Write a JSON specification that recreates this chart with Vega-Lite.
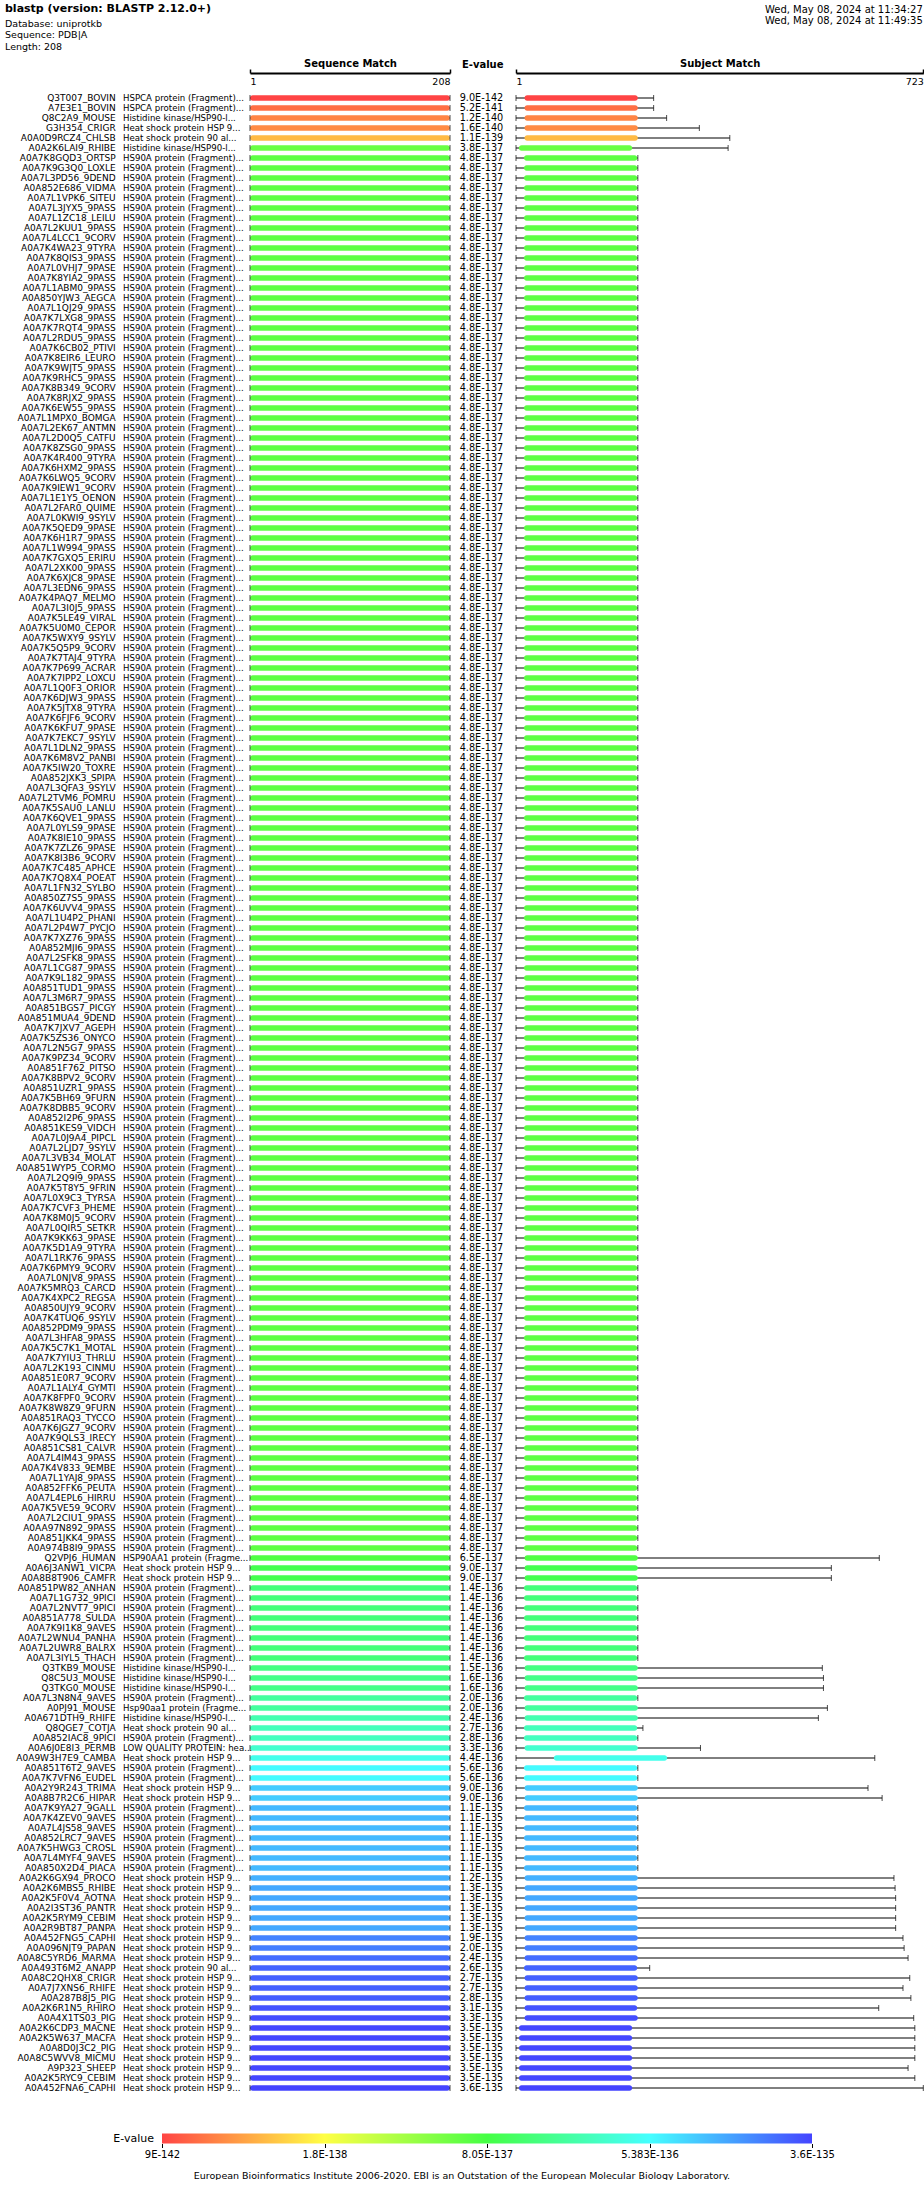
{
"$schema": "https://vega.github.io/schema/vega-lite/v6.json",
"padding": {"left": 0, "top": 2, "right": 0, "bottom": 0},
"background": "white",
"config": {"font": "DejaVu Sans", "view": {"stroke": null}, "text": {"color": "#000"}},
"title": {"text": "European Bioinformatics Institute 2006-2020. EBI is an Outstation of the European Molecular Biology Laboratory.", "orient": "bottom", "anchor": "middle", "fontSize": 9.5, "fontWeight": "normal", "color": "#000", "offset": 11, "baseline": "top"},
"datasets": {"hits": [
{"i":"Q3T007_BOVIN","d":"HSPCA protein (Fragment)...","e":"9.0E-142","v":9.0e-142,"qs":1,"qe":208,"ls":1,"s":16,"t":217,"l":245},
{"i":"A7E3E1_BOVIN","d":"HSPCA protein (Fragment)...","e":"5.2E-141","v":5.2e-141,"qs":1,"qe":208,"ls":1,"s":16,"t":217,"l":245},
{"i":"Q8C2A9_MOUSE","d":"Histidine kinase/HSP90-l...","e":"1.2E-140","v":1.2e-140,"qs":1,"qe":208,"ls":1,"s":16,"t":217,"l":268},
{"i":"G3H354_CRIGR","d":"Heat shock protein HSP 9...","e":"1.6E-140","v":1.6e-140,"qs":1,"qe":208,"ls":1,"s":16,"t":217,"l":326},
{"i":"A0A0D9RCZ4_CHLSB","d":"Heat shock protein 90 al...","e":"1.1E-139","v":1.1e-139,"qs":1,"qe":208,"ls":1,"s":16,"t":217,"l":380},
{"i":"A0A2K6LAI9_RHIBE","d":"Histidine kinase/HSP90-l...","e":"3.8E-137","v":3.8e-137,"qs":1,"qe":208,"ls":1,"s":6,"t":207,"l":377},
{"i":"A0A7K8GQD3_ORTSP","d":"HS90A protein (Fragment)...","e":"4.8E-137","v":4.8e-137,"qs":1,"qe":208,"ls":1,"s":15,"t":216,"l":217},
{"i":"A0A7K9G3Q0_LOXLE","d":"HS90A protein (Fragment)...","e":"4.8E-137","v":4.8e-137,"qs":1,"qe":208,"ls":1,"s":15,"t":216,"l":217},
{"i":"A0A7L3PD56_9DEND","d":"HS90A protein (Fragment)...","e":"4.8E-137","v":4.8e-137,"qs":1,"qe":208,"ls":1,"s":15,"t":216,"l":217},
{"i":"A0A852E686_VIDMA","d":"HS90A protein (Fragment)...","e":"4.8E-137","v":4.8e-137,"qs":1,"qe":208,"ls":1,"s":15,"t":216,"l":217},
{"i":"A0A7L1VPK6_SITEU","d":"HS90A protein (Fragment)...","e":"4.8E-137","v":4.8e-137,"qs":1,"qe":208,"ls":1,"s":15,"t":216,"l":217},
{"i":"A0A7L3JYX5_9PASS","d":"HS90A protein (Fragment)...","e":"4.8E-137","v":4.8e-137,"qs":1,"qe":208,"ls":1,"s":15,"t":216,"l":217},
{"i":"A0A7L1ZC18_LEILU","d":"HS90A protein (Fragment)...","e":"4.8E-137","v":4.8e-137,"qs":1,"qe":208,"ls":1,"s":15,"t":216,"l":217},
{"i":"A0A7L2KUU1_9PASS","d":"HS90A protein (Fragment)...","e":"4.8E-137","v":4.8e-137,"qs":1,"qe":208,"ls":1,"s":15,"t":216,"l":217},
{"i":"A0A7L4LCC1_9CORV","d":"HS90A protein (Fragment)...","e":"4.8E-137","v":4.8e-137,"qs":1,"qe":208,"ls":1,"s":15,"t":216,"l":217},
{"i":"A0A7K4WA23_9TYRA","d":"HS90A protein (Fragment)...","e":"4.8E-137","v":4.8e-137,"qs":1,"qe":208,"ls":1,"s":15,"t":216,"l":217},
{"i":"A0A7K8QIS3_9PASS","d":"HS90A protein (Fragment)...","e":"4.8E-137","v":4.8e-137,"qs":1,"qe":208,"ls":1,"s":15,"t":216,"l":217},
{"i":"A0A7L0VHJ7_9PASE","d":"HS90A protein (Fragment)...","e":"4.8E-137","v":4.8e-137,"qs":1,"qe":208,"ls":1,"s":15,"t":216,"l":217},
{"i":"A0A7K8YIA2_9PASS","d":"HS90A protein (Fragment)...","e":"4.8E-137","v":4.8e-137,"qs":1,"qe":208,"ls":1,"s":15,"t":216,"l":217},
{"i":"A0A7L1ABM0_9PASS","d":"HS90A protein (Fragment)...","e":"4.8E-137","v":4.8e-137,"qs":1,"qe":208,"ls":1,"s":15,"t":216,"l":217},
{"i":"A0A850YJW3_AEGCA","d":"HS90A protein (Fragment)...","e":"4.8E-137","v":4.8e-137,"qs":1,"qe":208,"ls":1,"s":15,"t":216,"l":217},
{"i":"A0A7L1QJ29_9PASS","d":"HS90A protein (Fragment)...","e":"4.8E-137","v":4.8e-137,"qs":1,"qe":208,"ls":1,"s":15,"t":216,"l":217},
{"i":"A0A7K7LXG8_9PASS","d":"HS90A protein (Fragment)...","e":"4.8E-137","v":4.8e-137,"qs":1,"qe":208,"ls":1,"s":15,"t":216,"l":217},
{"i":"A0A7K7RQT4_9PASS","d":"HS90A protein (Fragment)...","e":"4.8E-137","v":4.8e-137,"qs":1,"qe":208,"ls":1,"s":15,"t":216,"l":217},
{"i":"A0A7L2RDU5_9PASS","d":"HS90A protein (Fragment)...","e":"4.8E-137","v":4.8e-137,"qs":1,"qe":208,"ls":1,"s":15,"t":216,"l":217},
{"i":"A0A7K6CB02_PTIVI","d":"HS90A protein (Fragment)...","e":"4.8E-137","v":4.8e-137,"qs":1,"qe":208,"ls":1,"s":15,"t":216,"l":217},
{"i":"A0A7K8EIR6_LEURO","d":"HS90A protein (Fragment)...","e":"4.8E-137","v":4.8e-137,"qs":1,"qe":208,"ls":1,"s":15,"t":216,"l":217},
{"i":"A0A7K9WJT5_9PASS","d":"HS90A protein (Fragment)...","e":"4.8E-137","v":4.8e-137,"qs":1,"qe":208,"ls":1,"s":15,"t":216,"l":217},
{"i":"A0A7K9RHC5_9PASS","d":"HS90A protein (Fragment)...","e":"4.8E-137","v":4.8e-137,"qs":1,"qe":208,"ls":1,"s":15,"t":216,"l":217},
{"i":"A0A7K8B349_9CORV","d":"HS90A protein (Fragment)...","e":"4.8E-137","v":4.8e-137,"qs":1,"qe":208,"ls":1,"s":15,"t":216,"l":217},
{"i":"A0A7K8RJX2_9PASS","d":"HS90A protein (Fragment)...","e":"4.8E-137","v":4.8e-137,"qs":1,"qe":208,"ls":1,"s":15,"t":216,"l":217},
{"i":"A0A7K6EW55_9PASS","d":"HS90A protein (Fragment)...","e":"4.8E-137","v":4.8e-137,"qs":1,"qe":208,"ls":1,"s":15,"t":216,"l":217},
{"i":"A0A7L1MPX0_BOMGA","d":"HS90A protein (Fragment)...","e":"4.8E-137","v":4.8e-137,"qs":1,"qe":208,"ls":1,"s":15,"t":216,"l":217},
{"i":"A0A7L2EK67_ANTMN","d":"HS90A protein (Fragment)...","e":"4.8E-137","v":4.8e-137,"qs":1,"qe":208,"ls":1,"s":15,"t":216,"l":217},
{"i":"A0A7L2D0Q5_CATFU","d":"HS90A protein (Fragment)...","e":"4.8E-137","v":4.8e-137,"qs":1,"qe":208,"ls":1,"s":15,"t":216,"l":217},
{"i":"A0A7K8ZSG0_9PASS","d":"HS90A protein (Fragment)...","e":"4.8E-137","v":4.8e-137,"qs":1,"qe":208,"ls":1,"s":15,"t":216,"l":217},
{"i":"A0A7K4R400_9TYRA","d":"HS90A protein (Fragment)...","e":"4.8E-137","v":4.8e-137,"qs":1,"qe":208,"ls":1,"s":15,"t":216,"l":217},
{"i":"A0A7K6HXM2_9PASS","d":"HS90A protein (Fragment)...","e":"4.8E-137","v":4.8e-137,"qs":1,"qe":208,"ls":1,"s":15,"t":216,"l":217},
{"i":"A0A7K6LWQ5_9CORV","d":"HS90A protein (Fragment)...","e":"4.8E-137","v":4.8e-137,"qs":1,"qe":208,"ls":1,"s":15,"t":216,"l":217},
{"i":"A0A7K9IEW1_9CORV","d":"HS90A protein (Fragment)...","e":"4.8E-137","v":4.8e-137,"qs":1,"qe":208,"ls":1,"s":15,"t":216,"l":217},
{"i":"A0A7L1E1Y5_OENON","d":"HS90A protein (Fragment)...","e":"4.8E-137","v":4.8e-137,"qs":1,"qe":208,"ls":1,"s":15,"t":216,"l":217},
{"i":"A0A7L2FAR0_QUIME","d":"HS90A protein (Fragment)...","e":"4.8E-137","v":4.8e-137,"qs":1,"qe":208,"ls":1,"s":15,"t":216,"l":217},
{"i":"A0A7L0KWI9_9SYLV","d":"HS90A protein (Fragment)...","e":"4.8E-137","v":4.8e-137,"qs":1,"qe":208,"ls":1,"s":15,"t":216,"l":217},
{"i":"A0A7K5QED9_9PASE","d":"HS90A protein (Fragment)...","e":"4.8E-137","v":4.8e-137,"qs":1,"qe":208,"ls":1,"s":15,"t":216,"l":217},
{"i":"A0A7K6H1R7_9PASS","d":"HS90A protein (Fragment)...","e":"4.8E-137","v":4.8e-137,"qs":1,"qe":208,"ls":1,"s":15,"t":216,"l":217},
{"i":"A0A7L1W994_9PASS","d":"HS90A protein (Fragment)...","e":"4.8E-137","v":4.8e-137,"qs":1,"qe":208,"ls":1,"s":15,"t":216,"l":217},
{"i":"A0A7K7GXQ5_ERIRU","d":"HS90A protein (Fragment)...","e":"4.8E-137","v":4.8e-137,"qs":1,"qe":208,"ls":1,"s":15,"t":216,"l":217},
{"i":"A0A7L2XK00_9PASS","d":"HS90A protein (Fragment)...","e":"4.8E-137","v":4.8e-137,"qs":1,"qe":208,"ls":1,"s":15,"t":216,"l":217},
{"i":"A0A7K6XJC8_9PASE","d":"HS90A protein (Fragment)...","e":"4.8E-137","v":4.8e-137,"qs":1,"qe":208,"ls":1,"s":15,"t":216,"l":217},
{"i":"A0A7L3EDN6_9PASS","d":"HS90A protein (Fragment)...","e":"4.8E-137","v":4.8e-137,"qs":1,"qe":208,"ls":1,"s":15,"t":216,"l":217},
{"i":"A0A7K4PAQ7_MELMO","d":"HS90A protein (Fragment)...","e":"4.8E-137","v":4.8e-137,"qs":1,"qe":208,"ls":1,"s":15,"t":216,"l":217},
{"i":"A0A7L3I0J5_9PASS","d":"HS90A protein (Fragment)...","e":"4.8E-137","v":4.8e-137,"qs":1,"qe":208,"ls":1,"s":15,"t":216,"l":217},
{"i":"A0A7K5LE49_VIRAL","d":"HS90A protein (Fragment)...","e":"4.8E-137","v":4.8e-137,"qs":1,"qe":208,"ls":1,"s":15,"t":216,"l":217},
{"i":"A0A7K5U0M0_CEPOR","d":"HS90A protein (Fragment)...","e":"4.8E-137","v":4.8e-137,"qs":1,"qe":208,"ls":1,"s":15,"t":216,"l":217},
{"i":"A0A7K5WXY9_9SYLV","d":"HS90A protein (Fragment)...","e":"4.8E-137","v":4.8e-137,"qs":1,"qe":208,"ls":1,"s":15,"t":216,"l":217},
{"i":"A0A7K5Q5P9_9CORV","d":"HS90A protein (Fragment)...","e":"4.8E-137","v":4.8e-137,"qs":1,"qe":208,"ls":1,"s":15,"t":216,"l":217},
{"i":"A0A7K7TAJ4_9TYRA","d":"HS90A protein (Fragment)...","e":"4.8E-137","v":4.8e-137,"qs":1,"qe":208,"ls":1,"s":15,"t":216,"l":217},
{"i":"A0A7K7P699_ACRAR","d":"HS90A protein (Fragment)...","e":"4.8E-137","v":4.8e-137,"qs":1,"qe":208,"ls":1,"s":15,"t":216,"l":217},
{"i":"A0A7K7IPP2_LOXCU","d":"HS90A protein (Fragment)...","e":"4.8E-137","v":4.8e-137,"qs":1,"qe":208,"ls":1,"s":15,"t":216,"l":217},
{"i":"A0A7L1Q0F3_ORIOR","d":"HS90A protein (Fragment)...","e":"4.8E-137","v":4.8e-137,"qs":1,"qe":208,"ls":1,"s":15,"t":216,"l":217},
{"i":"A0A7K6DJW3_9PASS","d":"HS90A protein (Fragment)...","e":"4.8E-137","v":4.8e-137,"qs":1,"qe":208,"ls":1,"s":15,"t":216,"l":217},
{"i":"A0A7K5JTX8_9TYRA","d":"HS90A protein (Fragment)...","e":"4.8E-137","v":4.8e-137,"qs":1,"qe":208,"ls":1,"s":15,"t":216,"l":217},
{"i":"A0A7K6FJF6_9CORV","d":"HS90A protein (Fragment)...","e":"4.8E-137","v":4.8e-137,"qs":1,"qe":208,"ls":1,"s":15,"t":216,"l":217},
{"i":"A0A7K6KFU7_9PASE","d":"HS90A protein (Fragment)...","e":"4.8E-137","v":4.8e-137,"qs":1,"qe":208,"ls":1,"s":15,"t":216,"l":217},
{"i":"A0A7K7EKC7_9SYLV","d":"HS90A protein (Fragment)...","e":"4.8E-137","v":4.8e-137,"qs":1,"qe":208,"ls":1,"s":15,"t":216,"l":217},
{"i":"A0A7L1DLN2_9PASS","d":"HS90A protein (Fragment)...","e":"4.8E-137","v":4.8e-137,"qs":1,"qe":208,"ls":1,"s":15,"t":216,"l":217},
{"i":"A0A7K6M8V2_PANBI","d":"HS90A protein (Fragment)...","e":"4.8E-137","v":4.8e-137,"qs":1,"qe":208,"ls":1,"s":15,"t":216,"l":217},
{"i":"A0A7K5IW20_TOXRE","d":"HS90A protein (Fragment)...","e":"4.8E-137","v":4.8e-137,"qs":1,"qe":208,"ls":1,"s":15,"t":216,"l":217},
{"i":"A0A852JXK3_SPIPA","d":"HS90A protein (Fragment)...","e":"4.8E-137","v":4.8e-137,"qs":1,"qe":208,"ls":1,"s":15,"t":216,"l":217},
{"i":"A0A7L3QFA3_9SYLV","d":"HS90A protein (Fragment)...","e":"4.8E-137","v":4.8e-137,"qs":1,"qe":208,"ls":1,"s":15,"t":216,"l":217},
{"i":"A0A7L2TVM6_POMRU","d":"HS90A protein (Fragment)...","e":"4.8E-137","v":4.8e-137,"qs":1,"qe":208,"ls":1,"s":15,"t":216,"l":217},
{"i":"A0A7K5SAU0_LANLU","d":"HS90A protein (Fragment)...","e":"4.8E-137","v":4.8e-137,"qs":1,"qe":208,"ls":1,"s":15,"t":216,"l":217},
{"i":"A0A7K6QVE1_9PASS","d":"HS90A protein (Fragment)...","e":"4.8E-137","v":4.8e-137,"qs":1,"qe":208,"ls":1,"s":15,"t":216,"l":217},
{"i":"A0A7L0YLS9_9PASE","d":"HS90A protein (Fragment)...","e":"4.8E-137","v":4.8e-137,"qs":1,"qe":208,"ls":1,"s":15,"t":216,"l":217},
{"i":"A0A7K8IE10_9PASS","d":"HS90A protein (Fragment)...","e":"4.8E-137","v":4.8e-137,"qs":1,"qe":208,"ls":1,"s":15,"t":216,"l":217},
{"i":"A0A7K7ZLZ6_9PASE","d":"HS90A protein (Fragment)...","e":"4.8E-137","v":4.8e-137,"qs":1,"qe":208,"ls":1,"s":15,"t":216,"l":217},
{"i":"A0A7K8I3B6_9CORV","d":"HS90A protein (Fragment)...","e":"4.8E-137","v":4.8e-137,"qs":1,"qe":208,"ls":1,"s":15,"t":216,"l":217},
{"i":"A0A7K7C485_APHCE","d":"HS90A protein (Fragment)...","e":"4.8E-137","v":4.8e-137,"qs":1,"qe":208,"ls":1,"s":15,"t":216,"l":217},
{"i":"A0A7K7Q8X4_POEAT","d":"HS90A protein (Fragment)...","e":"4.8E-137","v":4.8e-137,"qs":1,"qe":208,"ls":1,"s":15,"t":216,"l":217},
{"i":"A0A7L1FN32_SYLBO","d":"HS90A protein (Fragment)...","e":"4.8E-137","v":4.8e-137,"qs":1,"qe":208,"ls":1,"s":15,"t":216,"l":217},
{"i":"A0A850Z7S5_9PASS","d":"HS90A protein (Fragment)...","e":"4.8E-137","v":4.8e-137,"qs":1,"qe":208,"ls":1,"s":15,"t":216,"l":217},
{"i":"A0A7K6UVV4_9PASS","d":"HS90A protein (Fragment)...","e":"4.8E-137","v":4.8e-137,"qs":1,"qe":208,"ls":1,"s":15,"t":216,"l":217},
{"i":"A0A7L1U4P2_PHANI","d":"HS90A protein (Fragment)...","e":"4.8E-137","v":4.8e-137,"qs":1,"qe":208,"ls":1,"s":15,"t":216,"l":217},
{"i":"A0A7L2P4W7_PYCJO","d":"HS90A protein (Fragment)...","e":"4.8E-137","v":4.8e-137,"qs":1,"qe":208,"ls":1,"s":15,"t":216,"l":217},
{"i":"A0A7K7XZ76_9PASS","d":"HS90A protein (Fragment)...","e":"4.8E-137","v":4.8e-137,"qs":1,"qe":208,"ls":1,"s":15,"t":216,"l":217},
{"i":"A0A852MJI6_9PASS","d":"HS90A protein (Fragment)...","e":"4.8E-137","v":4.8e-137,"qs":1,"qe":208,"ls":1,"s":15,"t":216,"l":217},
{"i":"A0A7L2SFK8_9PASS","d":"HS90A protein (Fragment)...","e":"4.8E-137","v":4.8e-137,"qs":1,"qe":208,"ls":1,"s":15,"t":216,"l":217},
{"i":"A0A7L1CG87_9PASS","d":"HS90A protein (Fragment)...","e":"4.8E-137","v":4.8e-137,"qs":1,"qe":208,"ls":1,"s":15,"t":216,"l":217},
{"i":"A0A7K9L182_9PASS","d":"HS90A protein (Fragment)...","e":"4.8E-137","v":4.8e-137,"qs":1,"qe":208,"ls":1,"s":15,"t":216,"l":217},
{"i":"A0A851TUD1_9PASS","d":"HS90A protein (Fragment)...","e":"4.8E-137","v":4.8e-137,"qs":1,"qe":208,"ls":1,"s":15,"t":216,"l":217},
{"i":"A0A7L3M6R7_9PASS","d":"HS90A protein (Fragment)...","e":"4.8E-137","v":4.8e-137,"qs":1,"qe":208,"ls":1,"s":15,"t":216,"l":217},
{"i":"A0A851BGS7_PICGY","d":"HS90A protein (Fragment)...","e":"4.8E-137","v":4.8e-137,"qs":1,"qe":208,"ls":1,"s":15,"t":216,"l":217},
{"i":"A0A851MUA4_9DEND","d":"HS90A protein (Fragment)...","e":"4.8E-137","v":4.8e-137,"qs":1,"qe":208,"ls":1,"s":15,"t":216,"l":217},
{"i":"A0A7K7JXV7_AGEPH","d":"HS90A protein (Fragment)...","e":"4.8E-137","v":4.8e-137,"qs":1,"qe":208,"ls":1,"s":15,"t":216,"l":217},
{"i":"A0A7K5ZS36_ONYCO","d":"HS90A protein (Fragment)...","e":"4.8E-137","v":4.8e-137,"qs":1,"qe":208,"ls":1,"s":15,"t":216,"l":217},
{"i":"A0A7L2N5G7_9PASS","d":"HS90A protein (Fragment)...","e":"4.8E-137","v":4.8e-137,"qs":1,"qe":208,"ls":1,"s":15,"t":216,"l":217},
{"i":"A0A7K9PZ34_9CORV","d":"HS90A protein (Fragment)...","e":"4.8E-137","v":4.8e-137,"qs":1,"qe":208,"ls":1,"s":15,"t":216,"l":217},
{"i":"A0A851F762_PITSO","d":"HS90A protein (Fragment)...","e":"4.8E-137","v":4.8e-137,"qs":1,"qe":208,"ls":1,"s":15,"t":216,"l":217},
{"i":"A0A7K8BPV2_9CORV","d":"HS90A protein (Fragment)...","e":"4.8E-137","v":4.8e-137,"qs":1,"qe":208,"ls":1,"s":15,"t":216,"l":217},
{"i":"A0A851UZR1_9PASS","d":"HS90A protein (Fragment)...","e":"4.8E-137","v":4.8e-137,"qs":1,"qe":208,"ls":1,"s":15,"t":216,"l":217},
{"i":"A0A7K5BH69_9FURN","d":"HS90A protein (Fragment)...","e":"4.8E-137","v":4.8e-137,"qs":1,"qe":208,"ls":1,"s":15,"t":216,"l":217},
{"i":"A0A7K8DBB5_9CORV","d":"HS90A protein (Fragment)...","e":"4.8E-137","v":4.8e-137,"qs":1,"qe":208,"ls":1,"s":15,"t":216,"l":217},
{"i":"A0A852I2P6_9PASS","d":"HS90A protein (Fragment)...","e":"4.8E-137","v":4.8e-137,"qs":1,"qe":208,"ls":1,"s":15,"t":216,"l":217},
{"i":"A0A851KES9_VIDCH","d":"HS90A protein (Fragment)...","e":"4.8E-137","v":4.8e-137,"qs":1,"qe":208,"ls":1,"s":15,"t":216,"l":217},
{"i":"A0A7L0J9A4_PIPCL","d":"HS90A protein (Fragment)...","e":"4.8E-137","v":4.8e-137,"qs":1,"qe":208,"ls":1,"s":15,"t":216,"l":217},
{"i":"A0A7L2LJD7_9SYLV","d":"HS90A protein (Fragment)...","e":"4.8E-137","v":4.8e-137,"qs":1,"qe":208,"ls":1,"s":15,"t":216,"l":217},
{"i":"A0A7L3VB34_MOLAT","d":"HS90A protein (Fragment)...","e":"4.8E-137","v":4.8e-137,"qs":1,"qe":208,"ls":1,"s":15,"t":216,"l":217},
{"i":"A0A851WYP5_CORMO","d":"HS90A protein (Fragment)...","e":"4.8E-137","v":4.8e-137,"qs":1,"qe":208,"ls":1,"s":15,"t":216,"l":217},
{"i":"A0A7L2Q9I9_9PASS","d":"HS90A protein (Fragment)...","e":"4.8E-137","v":4.8e-137,"qs":1,"qe":208,"ls":1,"s":15,"t":216,"l":217},
{"i":"A0A7K5T8Y5_9FRIN","d":"HS90A protein (Fragment)...","e":"4.8E-137","v":4.8e-137,"qs":1,"qe":208,"ls":1,"s":15,"t":216,"l":217},
{"i":"A0A7L0X9C3_TYRSA","d":"HS90A protein (Fragment)...","e":"4.8E-137","v":4.8e-137,"qs":1,"qe":208,"ls":1,"s":15,"t":216,"l":217},
{"i":"A0A7K7CVF3_PHEME","d":"HS90A protein (Fragment)...","e":"4.8E-137","v":4.8e-137,"qs":1,"qe":208,"ls":1,"s":15,"t":216,"l":217},
{"i":"A0A7K8M0J5_9CORV","d":"HS90A protein (Fragment)...","e":"4.8E-137","v":4.8e-137,"qs":1,"qe":208,"ls":1,"s":15,"t":216,"l":217},
{"i":"A0A7L0QIR5_SETKR","d":"HS90A protein (Fragment)...","e":"4.8E-137","v":4.8e-137,"qs":1,"qe":208,"ls":1,"s":15,"t":216,"l":217},
{"i":"A0A7K9KK63_9PASE","d":"HS90A protein (Fragment)...","e":"4.8E-137","v":4.8e-137,"qs":1,"qe":208,"ls":1,"s":15,"t":216,"l":217},
{"i":"A0A7K5D1A9_9TYRA","d":"HS90A protein (Fragment)...","e":"4.8E-137","v":4.8e-137,"qs":1,"qe":208,"ls":1,"s":15,"t":216,"l":217},
{"i":"A0A7L1RK76_9PASS","d":"HS90A protein (Fragment)...","e":"4.8E-137","v":4.8e-137,"qs":1,"qe":208,"ls":1,"s":15,"t":216,"l":217},
{"i":"A0A7K6PMY9_9CORV","d":"HS90A protein (Fragment)...","e":"4.8E-137","v":4.8e-137,"qs":1,"qe":208,"ls":1,"s":15,"t":216,"l":217},
{"i":"A0A7L0NJV8_9PASS","d":"HS90A protein (Fragment)...","e":"4.8E-137","v":4.8e-137,"qs":1,"qe":208,"ls":1,"s":15,"t":216,"l":217},
{"i":"A0A7K5MRQ3_CARCD","d":"HS90A protein (Fragment)...","e":"4.8E-137","v":4.8e-137,"qs":1,"qe":208,"ls":1,"s":15,"t":216,"l":217},
{"i":"A0A7K4XPC2_REGSA","d":"HS90A protein (Fragment)...","e":"4.8E-137","v":4.8e-137,"qs":1,"qe":208,"ls":1,"s":15,"t":216,"l":217},
{"i":"A0A850UJY9_9CORV","d":"HS90A protein (Fragment)...","e":"4.8E-137","v":4.8e-137,"qs":1,"qe":208,"ls":1,"s":15,"t":216,"l":217},
{"i":"A0A7K4TUQ6_9SYLV","d":"HS90A protein (Fragment)...","e":"4.8E-137","v":4.8e-137,"qs":1,"qe":208,"ls":1,"s":15,"t":216,"l":217},
{"i":"A0A852PDM9_9PASS","d":"HS90A protein (Fragment)...","e":"4.8E-137","v":4.8e-137,"qs":1,"qe":208,"ls":1,"s":15,"t":216,"l":217},
{"i":"A0A7L3HFA8_9PASS","d":"HS90A protein (Fragment)...","e":"4.8E-137","v":4.8e-137,"qs":1,"qe":208,"ls":1,"s":15,"t":216,"l":217},
{"i":"A0A7K5C7K1_MOTAL","d":"HS90A protein (Fragment)...","e":"4.8E-137","v":4.8e-137,"qs":1,"qe":208,"ls":1,"s":15,"t":216,"l":217},
{"i":"A0A7K7YIU3_THRLU","d":"HS90A protein (Fragment)...","e":"4.8E-137","v":4.8e-137,"qs":1,"qe":208,"ls":1,"s":15,"t":216,"l":217},
{"i":"A0A7L2K193_CINMU","d":"HS90A protein (Fragment)...","e":"4.8E-137","v":4.8e-137,"qs":1,"qe":208,"ls":1,"s":15,"t":216,"l":217},
{"i":"A0A851E0R7_9CORV","d":"HS90A protein (Fragment)...","e":"4.8E-137","v":4.8e-137,"qs":1,"qe":208,"ls":1,"s":15,"t":216,"l":217},
{"i":"A0A7L1ALY4_GYMTI","d":"HS90A protein (Fragment)...","e":"4.8E-137","v":4.8e-137,"qs":1,"qe":208,"ls":1,"s":15,"t":216,"l":217},
{"i":"A0A7K8FPF0_9CORV","d":"HS90A protein (Fragment)...","e":"4.8E-137","v":4.8e-137,"qs":1,"qe":208,"ls":1,"s":15,"t":216,"l":217},
{"i":"A0A7K8W8Z9_9FURN","d":"HS90A protein (Fragment)...","e":"4.8E-137","v":4.8e-137,"qs":1,"qe":208,"ls":1,"s":15,"t":216,"l":217},
{"i":"A0A851RAQ3_TYCCO","d":"HS90A protein (Fragment)...","e":"4.8E-137","v":4.8e-137,"qs":1,"qe":208,"ls":1,"s":15,"t":216,"l":217},
{"i":"A0A7K6JGZ7_9CORV","d":"HS90A protein (Fragment)...","e":"4.8E-137","v":4.8e-137,"qs":1,"qe":208,"ls":1,"s":15,"t":216,"l":217},
{"i":"A0A7K9QLS3_IRECY","d":"HS90A protein (Fragment)...","e":"4.8E-137","v":4.8e-137,"qs":1,"qe":208,"ls":1,"s":15,"t":216,"l":217},
{"i":"A0A851CS81_CALVR","d":"HS90A protein (Fragment)...","e":"4.8E-137","v":4.8e-137,"qs":1,"qe":208,"ls":1,"s":15,"t":216,"l":217},
{"i":"A0A7L4IM43_9PASS","d":"HS90A protein (Fragment)...","e":"4.8E-137","v":4.8e-137,"qs":1,"qe":208,"ls":1,"s":15,"t":216,"l":217},
{"i":"A0A7K4V833_9EMBE","d":"HS90A protein (Fragment)...","e":"4.8E-137","v":4.8e-137,"qs":1,"qe":208,"ls":1,"s":15,"t":216,"l":217},
{"i":"A0A7L1YAJ8_9PASS","d":"HS90A protein (Fragment)...","e":"4.8E-137","v":4.8e-137,"qs":1,"qe":208,"ls":1,"s":15,"t":216,"l":217},
{"i":"A0A852FFK6_PEUTA","d":"HS90A protein (Fragment)...","e":"4.8E-137","v":4.8e-137,"qs":1,"qe":208,"ls":1,"s":15,"t":216,"l":217},
{"i":"A0A7L4EPL6_HIRRU","d":"HS90A protein (Fragment)...","e":"4.8E-137","v":4.8e-137,"qs":1,"qe":208,"ls":1,"s":15,"t":216,"l":217},
{"i":"A0A7K5VE59_9CORV","d":"HS90A protein (Fragment)...","e":"4.8E-137","v":4.8e-137,"qs":1,"qe":208,"ls":1,"s":15,"t":216,"l":217},
{"i":"A0A7L2CIU1_9PASS","d":"HS90A protein (Fragment)...","e":"4.8E-137","v":4.8e-137,"qs":1,"qe":208,"ls":1,"s":15,"t":216,"l":217},
{"i":"A0AA97N892_9PASS","d":"HS90A protein (Fragment)...","e":"4.8E-137","v":4.8e-137,"qs":1,"qe":208,"ls":1,"s":15,"t":216,"l":217},
{"i":"A0A851JKK4_9PASS","d":"HS90A protein (Fragment)...","e":"4.8E-137","v":4.8e-137,"qs":1,"qe":208,"ls":1,"s":15,"t":216,"l":217},
{"i":"A0A974B8I9_9PASS","d":"HS90A protein (Fragment)...","e":"4.8E-137","v":4.8e-137,"qs":1,"qe":208,"ls":1,"s":15,"t":216,"l":217},
{"i":"Q2VPJ6_HUMAN","d":"HSP90AA1 protein (Fragme...","e":"6.5E-137","v":6.5e-137,"qs":1,"qe":208,"ls":1,"s":16,"t":217,"l":645},
{"i":"A0A6J3ANW1_VICPA","d":"Heat shock protein HSP 9...","e":"9.0E-137","v":9.0e-137,"qs":1,"qe":208,"ls":1,"s":16,"t":217,"l":560},
{"i":"A0A8B8T906_CAMFR","d":"Heat shock protein HSP 9...","e":"9.0E-137","v":9.0e-137,"qs":1,"qe":208,"ls":1,"s":16,"t":217,"l":560},
{"i":"A0A851PW82_ANHAN","d":"HS90A protein (Fragment)...","e":"1.4E-136","v":1.4e-136,"qs":1,"qe":208,"ls":1,"s":15,"t":216,"l":217},
{"i":"A0A7L1G732_9PICI","d":"HS90A protein (Fragment)...","e":"1.4E-136","v":1.4e-136,"qs":1,"qe":208,"ls":1,"s":15,"t":216,"l":217},
{"i":"A0A7L2NVT7_9PICI","d":"HS90A protein (Fragment)...","e":"1.4E-136","v":1.4e-136,"qs":1,"qe":208,"ls":1,"s":15,"t":216,"l":217},
{"i":"A0A851A778_SULDA","d":"HS90A protein (Fragment)...","e":"1.4E-136","v":1.4e-136,"qs":1,"qe":208,"ls":1,"s":15,"t":216,"l":217},
{"i":"A0A7K9I1K8_9AVES","d":"HS90A protein (Fragment)...","e":"1.4E-136","v":1.4e-136,"qs":1,"qe":208,"ls":1,"s":15,"t":216,"l":217},
{"i":"A0A7L2WNU4_PANHA","d":"HS90A protein (Fragment)...","e":"1.4E-136","v":1.4e-136,"qs":1,"qe":208,"ls":1,"s":15,"t":216,"l":217},
{"i":"A0A7L2UWR8_BALRX","d":"HS90A protein (Fragment)...","e":"1.4E-136","v":1.4e-136,"qs":1,"qe":208,"ls":1,"s":15,"t":216,"l":217},
{"i":"A0A7L3IYL5_THACH","d":"HS90A protein (Fragment)...","e":"1.4E-136","v":1.4e-136,"qs":1,"qe":208,"ls":1,"s":15,"t":216,"l":217},
{"i":"Q3TKB9_MOUSE","d":"Histidine kinase/HSP90-l...","e":"1.5E-136","v":1.5e-136,"qs":1,"qe":208,"ls":1,"s":16,"t":217,"l":544},
{"i":"Q8C5U3_MOUSE","d":"Histidine kinase/HSP90-l...","e":"1.6E-136","v":1.6e-136,"qs":1,"qe":208,"ls":1,"s":16,"t":217,"l":546},
{"i":"Q3TKG0_MOUSE","d":"Histidine kinase/HSP90-l...","e":"1.6E-136","v":1.6e-136,"qs":1,"qe":208,"ls":1,"s":16,"t":217,"l":546},
{"i":"A0A7L3N8N4_9AVES","d":"HS90A protein (Fragment)...","e":"2.0E-136","v":2.0e-136,"qs":1,"qe":208,"ls":1,"s":15,"t":216,"l":217},
{"i":"A0PJ91_MOUSE","d":"Hsp90aa1 protein (Fragme...","e":"2.0E-136","v":2.0e-136,"qs":1,"qe":208,"ls":1,"s":16,"t":217,"l":553},
{"i":"A0A671DTH9_RHIFE","d":"Histidine kinase/HSP90-l...","e":"2.4E-136","v":2.4e-136,"qs":1,"qe":208,"ls":1,"s":16,"t":217,"l":537},
{"i":"Q8QGE7_COTJA","d":"Heat shock protein 90 al...","e":"2.7E-136","v":2.7e-136,"qs":1,"qe":208,"ls":1,"s":15,"t":216,"l":226},
{"i":"A0A852IAC8_9PICI","d":"HS90A protein (Fragment)...","e":"2.8E-136","v":2.8e-136,"qs":1,"qe":208,"ls":1,"s":15,"t":216,"l":217},
{"i":"A0A6J0E8I3_PERMB","d":"LOW QUALITY PROTEIN: hea...","e":"3.3E-136","v":3.3e-136,"qs":1,"qe":208,"ls":1,"s":16,"t":217,"l":328},
{"i":"A0A9W3H7E9_CAMBA","d":"Heat shock protein HSP 9...","e":"4.4E-136","v":4.4e-136,"qs":1,"qe":208,"ls":1,"s":68,"t":269,"l":637},
{"i":"A0A851T6T2_9AVES","d":"HS90A protein (Fragment)...","e":"5.6E-136","v":5.6e-136,"qs":1,"qe":208,"ls":1,"s":15,"t":216,"l":217},
{"i":"A0A7K7VFN6_EUDEL","d":"HS90A protein (Fragment)...","e":"5.6E-136","v":5.6e-136,"qs":1,"qe":208,"ls":1,"s":15,"t":216,"l":217},
{"i":"A0A2Y9R243_TRIMA","d":"Heat shock protein HSP 9...","e":"9.0E-136","v":9.0e-136,"qs":1,"qe":208,"ls":1,"s":16,"t":217,"l":625},
{"i":"A0A8B7R2C6_HIPAR","d":"Heat shock protein HSP 9...","e":"9.0E-136","v":9.0e-136,"qs":1,"qe":208,"ls":1,"s":16,"t":217,"l":650},
{"i":"A0A7K9YA27_9GALL","d":"HS90A protein (Fragment)...","e":"1.1E-135","v":1.1e-135,"qs":1,"qe":208,"ls":1,"s":15,"t":216,"l":217},
{"i":"A0A7K4ZEV0_9AVES","d":"HS90A protein (Fragment)...","e":"1.1E-135","v":1.1e-135,"qs":1,"qe":208,"ls":1,"s":15,"t":216,"l":217},
{"i":"A0A7L4JS58_9AVES","d":"HS90A protein (Fragment)...","e":"1.1E-135","v":1.1e-135,"qs":1,"qe":208,"ls":1,"s":15,"t":216,"l":217},
{"i":"A0A852LRC7_9AVES","d":"HS90A protein (Fragment)...","e":"1.1E-135","v":1.1e-135,"qs":1,"qe":208,"ls":1,"s":15,"t":216,"l":217},
{"i":"A0A7K5HWG3_CROSL","d":"HS90A protein (Fragment)...","e":"1.1E-135","v":1.1e-135,"qs":1,"qe":208,"ls":1,"s":15,"t":216,"l":217},
{"i":"A0A7L4MYF4_9AVES","d":"HS90A protein (Fragment)...","e":"1.1E-135","v":1.1e-135,"qs":1,"qe":208,"ls":1,"s":15,"t":216,"l":217},
{"i":"A0A850X2D4_PIACA","d":"HS90A protein (Fragment)...","e":"1.1E-135","v":1.1e-135,"qs":1,"qe":208,"ls":1,"s":15,"t":216,"l":217},
{"i":"A0A2K6GX94_PROCO","d":"Heat shock protein HSP 9...","e":"1.2E-135","v":1.2e-135,"qs":1,"qe":208,"ls":1,"s":16,"t":217,"l":671},
{"i":"A0A2K6MBS5_RHIBE","d":"Heat shock protein HSP 9...","e":"1.3E-135","v":1.3e-135,"qs":1,"qe":208,"ls":1,"s":16,"t":217,"l":673},
{"i":"A0A2K5F0V4_AOTNA","d":"Heat shock protein HSP 9...","e":"1.3E-135","v":1.3e-135,"qs":1,"qe":208,"ls":1,"s":16,"t":217,"l":674},
{"i":"A0A2I3ST36_PANTR","d":"Heat shock protein HSP 9...","e":"1.3E-135","v":1.3e-135,"qs":1,"qe":208,"ls":1,"s":16,"t":217,"l":674},
{"i":"A0A2K5RYM9_CEBIM","d":"Heat shock protein HSP 9...","e":"1.3E-135","v":1.3e-135,"qs":1,"qe":208,"ls":1,"s":16,"t":217,"l":674},
{"i":"A0A2R9BT87_PANPA","d":"Heat shock protein HSP 9...","e":"1.3E-135","v":1.3e-135,"qs":1,"qe":208,"ls":1,"s":16,"t":217,"l":674},
{"i":"A0A452FNG5_CAPHI","d":"Heat shock protein HSP 9...","e":"1.9E-135","v":1.9e-135,"qs":1,"qe":208,"ls":1,"s":16,"t":217,"l":687},
{"i":"A0A096NJT9_PAPAN","d":"Heat shock protein HSP 9...","e":"2.0E-135","v":2.0e-135,"qs":1,"qe":208,"ls":1,"s":16,"t":217,"l":689},
{"i":"A0A8C5YRD6_MARMA","d":"Heat shock protein HSP 9...","e":"2.4E-135","v":2.4e-135,"qs":1,"qe":208,"ls":1,"s":16,"t":217,"l":696},
{"i":"A0A493T6M2_ANAPP","d":"Heat shock protein 90 al...","e":"2.6E-135","v":2.6e-135,"qs":1,"qe":208,"ls":1,"s":15,"t":216,"l":238},
{"i":"A0A8C2QHX8_CRIGR","d":"Heat shock protein HSP 9...","e":"2.7E-135","v":2.7e-135,"qs":1,"qe":208,"ls":1,"s":16,"t":217,"l":699},
{"i":"A0A7J7XNS6_RHIFE","d":"Heat shock protein HSP 9...","e":"2.7E-135","v":2.7e-135,"qs":1,"qe":208,"ls":1,"s":16,"t":217,"l":687},
{"i":"A0A287B8J5_PIG","d":"Heat shock protein HSP 9...","e":"2.8E-135","v":2.8e-135,"qs":1,"qe":208,"ls":1,"s":16,"t":217,"l":701},
{"i":"A0A2K6R1N5_RHIRO","d":"Heat shock protein HSP 9...","e":"3.1E-135","v":3.1e-135,"qs":1,"qe":208,"ls":1,"s":16,"t":216,"l":644},
{"i":"A0A4X1TS03_PIG","d":"Heat shock protein HSP 9...","e":"3.3E-135","v":3.3e-135,"qs":1,"qe":208,"ls":1,"s":16,"t":217,"l":706},
{"i":"A0A2K6CDP3_MACNE","d":"Heat shock protein HSP 9...","e":"3.5E-135","v":3.5e-135,"qs":1,"qe":208,"ls":1,"s":6,"t":207,"l":708},
{"i":"A0A2K5W637_MACFA","d":"Heat shock protein HSP 9...","e":"3.5E-135","v":3.5e-135,"qs":1,"qe":208,"ls":1,"s":6,"t":207,"l":708},
{"i":"A0A8D0J3C2_PIG","d":"Heat shock protein HSP 9...","e":"3.5E-135","v":3.5e-135,"qs":1,"qe":208,"ls":1,"s":6,"t":207,"l":708},
{"i":"A0A8C5WVV8_MICMU","d":"Heat shock protein HSP 9...","e":"3.5E-135","v":3.5e-135,"qs":1,"qe":208,"ls":1,"s":6,"t":207,"l":708},
{"i":"A9P323_SHEEP","d":"Heat shock protein HSP 9...","e":"3.5E-135","v":3.5e-135,"qs":1,"qe":208,"ls":1,"s":6,"t":207,"l":696},
{"i":"A0A2K5RYC9_CEBIM","d":"Heat shock protein HSP 9...","e":"3.5E-135","v":3.5e-135,"qs":1,"qe":208,"ls":1,"s":6,"t":207,"l":708},
{"i":"A0A452FNA6_CAPHI","d":"Heat shock protein HSP 9...","e":"3.6E-135","v":3.6e-135,"qs":1,"qe":208,"ls":1,"s":6,"t":207,"l":723}
]},
"spacing": 39.5,
"vconcat": [
{
"data": {"name": "hits"},
"spacing": 0,
"bounds": "flush",
"hconcat": [
 {
  "width": 122.3, "height": 2000,
  "title": {"text": "blastp (version: BLASTP 2.12.0+)", "subtitle": ["Database: uniprotkb", "Sequence: PDB|A", "Length: 208"], "anchor": "start", "dx": 5, "offset": 42, "fontSize": 11, "fontWeight": "bold", "color": "#000", "subtitleFontSize": 9.5, "subtitleColor": "#000", "subtitleLineHeight": 11.5, "subtitlePadding": 5},
  "mark": {"type": "text", "align": "right", "baseline": "middle", "dx": -6.6, "fontSize": 9, "color": "#000"},
  "encoding": {
   "y": {"field": "i", "type": "nominal", "sort": null, "scale": {"type": "band", "paddingInner": 0, "paddingOuter": 0}, "axis": null},
   "x": {"field": "qs", "type": "quantitative", "scale": {"domain": [0, 1], "zero": false, "nice": false}, "axis": null},
   "text": {"field": "i"}
  }
 },
 {
  "width": 127, "height": 2000,
  "mark": {"type": "text", "align": "left", "baseline": "middle", "fontSize": 8.6, "color": "#000"},
  "encoding": {
   "y": {"field": "i", "type": "nominal", "sort": null, "scale": {"type": "band", "paddingInner": 0, "paddingOuter": 0}, "axis": null},
   "x": {"field": "qs", "type": "quantitative", "scale": {"domain": [1, 2], "zero": false, "nice": false}, "axis": null},
   "text": {"field": "d"}
  }
 },
 {
  "width": 200, "height": 2000,
  "layer": [
   {"mark": {"type": "bar", "height": 5.5, "cornerRadius": 2.75},
    "encoding": {
     "y": {"field": "i", "type": "nominal", "sort": null, "scale": {"type": "band", "paddingInner": 0, "paddingOuter": 0}, "axis": null},
     "x": {"field": "qs", "type": "quantitative", "scale": {"domain": [1, 208], "nice": false, "zero": false},
       "axis": {"orient": "top", "values": [1, 208], "title": "Sequence Match", "titleFontWeight": "bold", "titleFontSize": 10, "titleColor": "#000", "titleY": -6.3, "titleBaseline": "alphabetic", "offset": 20, "domainColor": "#000", "domainWidth": 2, "tickColor": "#000", "tickWidth": 1.5, "tickSize": 4, "labelFlush": true, "labelOverlap": false, "labelBaseline": "alphabetic", "labelPadding": -15.3, "labelFontSize": 9.5, "labelColor": "#000", "grid": false}},
     "x2": {"field": "qe"},
     "color": {"field": "v", "type": "quantitative", "scale": {"type": "log", "domain": [9e-142, 1.8e-138, 8.05e-137, 5.383e-136, 3.6e-135], "range": ["#ff4444", "#ffff44", "#44ff44", "#44ffff", "#4444ff"], "interpolate": "rgb", "clamp": true}, "legend": null}
    }},
   {"mark": {"type": "tick", "size": 6, "thickness": 1, "color": "#000"},
    "encoding": {
     "y": {"field": "i", "type": "nominal", "sort": null},
     "x": {"field": "qs", "type": "quantitative"}}},
   {"mark": {"type": "tick", "size": 6, "thickness": 1, "color": "#000"},
    "encoding": {
     "y": {"field": "i", "type": "nominal", "sort": null},
     "x": {"field": "qe", "type": "quantitative"}}}
  ]
 },
 {
  "width": 65.4, "height": 2000,
  "title": {"text": "E-value", "fontWeight": "bold", "fontSize": 10, "color": "#000", "anchor": "middle", "baseline": "alphabetic", "offset": 15.5},
  "mark": {"type": "text", "align": "left", "baseline": "middle", "dx": 9.7, "fontSize": 9.7, "color": "#000"},
  "encoding": {
   "y": {"field": "i", "type": "nominal", "sort": null, "scale": {"type": "band", "paddingInner": 0, "paddingOuter": 0}, "axis": null},
   "x": {"field": "qs", "type": "quantitative", "scale": {"domain": [1, 2], "zero": false, "nice": false}, "axis": null},
   "text": {"field": "e"}
  }
 },
 {
  "width": 407.3, "height": 2000,
  "title": {"text": ["Wed, May 08, 2024 at 11:34:27", "Wed, May 08, 2024 at 11:49:35"], "anchor": "end", "dx": -1, "offset": 33, "fontSize": 10, "fontWeight": "normal", "lineHeight": 11, "color": "#000"},
  "layer": [
   {"mark": {"type": "rule", "color": "#000", "strokeWidth": 1},
    "encoding": {
     "y": {"field": "i", "type": "nominal", "sort": null, "scale": {"type": "band", "paddingInner": 0, "paddingOuter": 0}, "axis": null},
     "x": {"field": "ls", "type": "quantitative", "scale": {"domain": [1, 723], "nice": false, "zero": false},
       "axis": {"orient": "top", "values": [1, 723], "title": "Subject Match", "titleFontWeight": "bold", "titleFontSize": 10, "titleColor": "#000", "titleY": -6.3, "titleBaseline": "alphabetic", "offset": 20, "domainColor": "#000", "domainWidth": 2, "tickColor": "#000", "tickWidth": 1.5, "tickSize": 4, "labelFlush": true, "labelOverlap": false, "labelBaseline": "alphabetic", "labelPadding": -15.3, "labelFontSize": 9.5, "labelColor": "#000", "grid": false}},
     "x2": {"field": "l"}
    }},
   {"mark": {"type": "tick", "size": 6, "thickness": 1, "color": "#000"},
    "encoding": {
     "y": {"field": "i", "type": "nominal", "sort": null},
     "x": {"field": "ls", "type": "quantitative"}}},
   {"mark": {"type": "tick", "size": 6, "thickness": 1, "color": "#000"},
    "encoding": {
     "y": {"field": "i", "type": "nominal", "sort": null},
     "x": {"field": "l", "type": "quantitative"}}},
   {"mark": {"type": "bar", "height": 5.5, "cornerRadius": 2.75},
    "encoding": {
     "y": {"field": "i", "type": "nominal", "sort": null},
     "x": {"field": "s", "type": "quantitative"},
     "x2": {"field": "t"},
     "color": {"field": "v", "type": "quantitative", "scale": {"type": "log", "domain": [9e-142, 1.8e-138, 8.05e-137, 5.383e-136, 3.6e-135], "range": ["#ff4444", "#ffff44", "#44ff44", "#44ffff", "#4444ff"], "interpolate": "rgb", "clamp": true}, "legend": null}
    }}
  ]
 }
]
},
{
"spacing": 0,
"bounds": "flush",
"hconcat": [
 {
  "width": 162, "height": 10,
  "data": {"values": [{"label": "E-value", "pos": 1}]},
  "mark": {"type": "text", "align": "right", "baseline": "middle", "dx": -8, "fontSize": 11, "color": "#000"},
  "encoding": {
   "x": {"field": "pos", "type": "quantitative", "scale": {"domain": [0, 1], "zero": false, "nice": false}, "axis": null},
   "y": {"field": "label", "type": "nominal", "axis": null},
   "text": {"field": "label"}
  }
 },
 {
  "width": 650, "height": 10,
  "data": {"values": [{"from": 0, "to": 4}]},
  "mark": {"type": "rect", "fill": {"gradient": "linear", "x1": 0, "y1": 0, "x2": 1, "y2": 0, "stops": [
    {"offset": 0, "color": "#ff4444"}, {"offset": 0.25, "color": "#ffff44"}, {"offset": 0.5, "color": "#44ff44"}, {"offset": 0.75, "color": "#44ffff"}, {"offset": 1, "color": "#4444ff"}]}},
  "encoding": {
   "x": {"field": "from", "type": "quantitative", "scale": {"domain": [0, 4], "nice": false, "zero": false},
     "axis": {"orient": "bottom", "values": [0, 1, 2, 3, 4], "labelExpr": "['9E-142', '1.8E-138', '8.05E-137', '5.383E-136', '3.6E-135'][datum.value]", "title": null, "domain": false, "ticks": true, "tickSize": 4, "tickColor": "#000", "tickWidth": 1, "labelFontSize": 10, "labelColor": "#000", "labelPadding": 2, "labelOverlap": false, "labelFlush": false, "grid": false}},
   "x2": {"field": "to"}
  }
 }
]
}
]
}
